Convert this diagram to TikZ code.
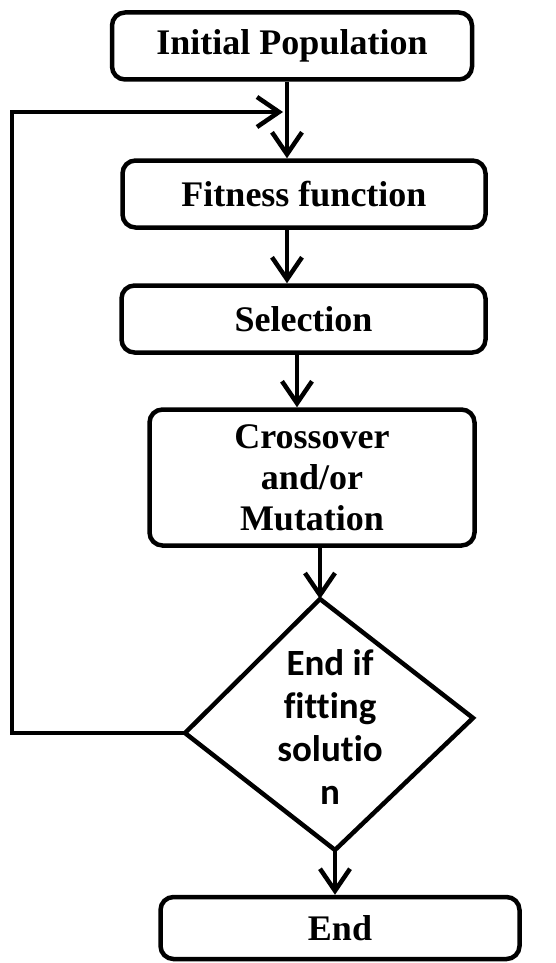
\documentclass[tikz,border=0pt]{standalone}
\usepackage{fontspec}
\setmainfont{Liberation Serif}
\newfontfamily\dfont[Ligatures=NoCommon]{Carlito}
\usetikzlibrary{arrows.meta}
\begin{document}
\begin{tikzpicture}[x=1pt,y=-1pt,
  line width=4.5pt,
  box/.style={draw, rounded corners=13pt, align=center, inner sep=0pt,
    font=\fontsize{36}{41}\selectfont\bfseries},
  arr/.style={-{Straight Barb[length=22pt,width=30pt,line width=4.5pt]}},
  dtxt/.style={align=center, inner sep=0pt, font=\dfont\fontsize{37}{43}\selectfont\bfseries}]
\useasboundingbox (0,0) rectangle (555,963);
\node[box, minimum width=360pt, minimum height=67pt] (b1) at (292,46) {Initial Population};
\node[box, minimum width=363pt, minimum height=67pt] (b2) at (304,194) {Fitness function};
\node[box, minimum width=364pt, minimum height=67pt] (b3) at (303.5,319) {Selection};
\node[box, minimum width=325pt, minimum height=136pt] (b4) at (312,477.5) {Crossover\\and/or\\Mutation};
\node[box, minimum width=359pt, minimum height=62pt] (e) at (340,928) {End};
\coordinate (dT) at (320,599);
\coordinate (dL) at (185,733);
\coordinate (dR) at (473,718);
\coordinate (dB) at (335,850);
\draw[line join=miter] (dT) -- (dR) -- (dB) -- (dL) -- cycle;
\node[dtxt] (dtext) at (330,727) {End if\\fitting\\solutio\\n};
\coordinate (join) at (287,112);
\coordinate (fb) at (12,112);
\draw[arr] ([xshift=-5pt]b1.south) -- ([xshift=-5pt]b1.south |- b2.north);
\draw[arr] ([xshift=-17pt]b2.south) -- ([xshift=-17pt]b2.south |- b3.north);
\draw[arr] ([xshift=-6.5pt]b3.south) -- ([xshift=-6.5pt]b3.south |- b4.north);
\draw[arr] (dT |- b4.south) -- (dT);
\draw[arr] (dB) -- (dB |- e.north);
\draw[arr] (dL) -| (fb) -- ([xshift=-4pt]join);
\end{tikzpicture}
\end{document}
